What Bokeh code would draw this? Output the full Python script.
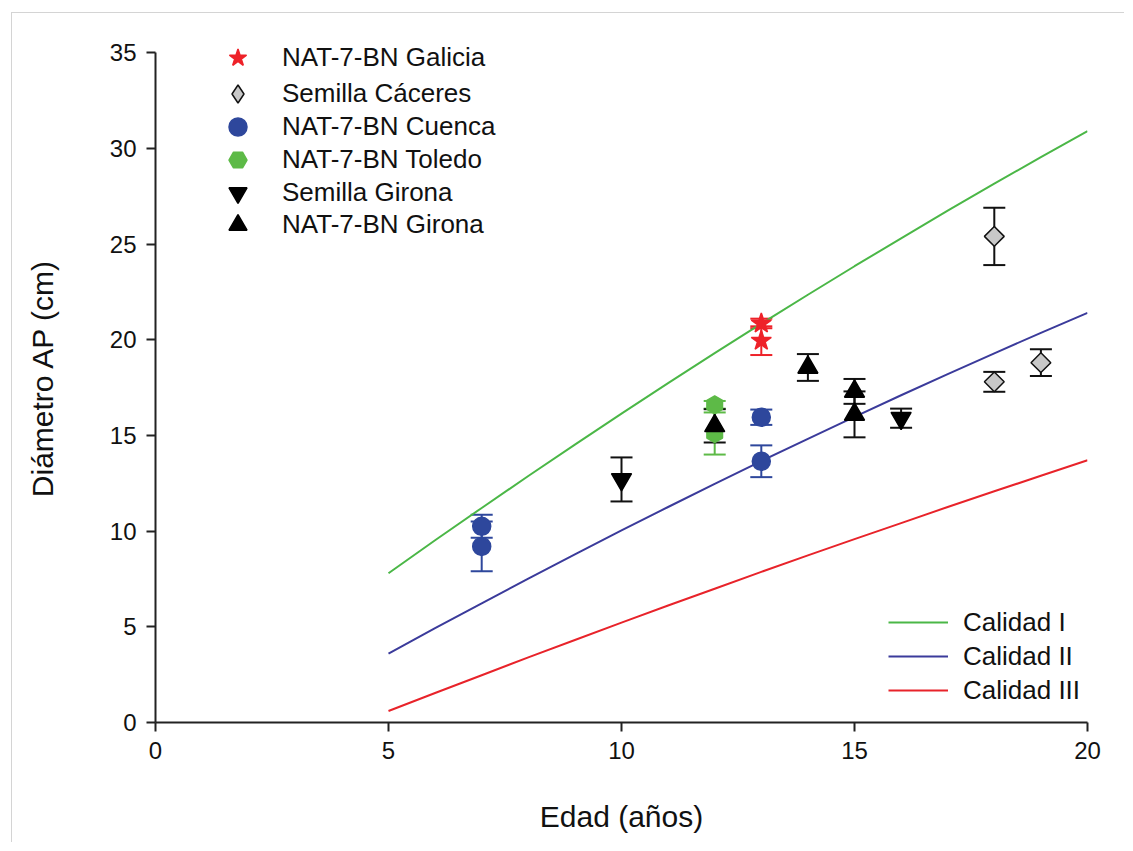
import math
from bokeh.plotting import figure
from bokeh.models import Range1d, Whisker, TeeHead, ColumnDataSource, Legend, LegendItem, FixedTicker
from bokeh.embed import file_html
from bokeh.resources import INLINE

# ---- data ----
gal_x = [13, 13]
gal_y = [20.85, 19.95]
gal_e = [0.25, 0.75]

cac_x = [18, 18, 19]
cac_y = [25.4, 17.8, 18.8]
cac_e = [1.5, 0.52, 0.7]

cue_x = [7, 7, 13, 13]
cue_y = [10.25, 9.2, 15.95, 13.65]
cue_e = [0.6, 1.3, 0.4, 0.83]

tol_x = [12, 12]
tol_y = [16.6, 15.1]
tol_e = [0.2, 1.1]

sgi_x = [10, 16]
sgi_y = [12.7, 15.9]
sgi_e = [1.15, 0.5]

ngi_x = [12, 14, 15, 15]
ngi_y = [15.5, 18.55, 17.3, 16.1]
ngi_e = [0.87, 0.7, 0.65, 1.2]

age = [5, 6, 7, 8, 9, 10, 11, 12, 13, 14, 15, 16, 17, 18, 19, 20]
cal1 = [7.8, 9.52, 11.21, 12.88, 14.52, 16.14, 17.73, 19.3, 20.84, 22.35, 23.84, 25.3, 26.74, 28.15, 29.54, 30.9]
cal2 = [3.6, 4.93, 6.23, 7.52, 8.79, 10.04, 11.26, 12.47, 13.66, 14.82, 15.97, 17.1, 18.2, 19.29, 20.36, 21.4]
cal3 = [0.6, 1.54, 2.47, 3.4, 4.31, 5.22, 6.11, 6.99, 7.87, 8.73, 9.58, 10.42, 11.26, 12.08, 12.89, 13.7]

series_labels = ["NAT-7-BN Galicia", "Semilla Cáceres", "NAT-7-BN Cuenca",
                 "NAT-7-BN Toledo", "Semilla Girona", "NAT-7-BN Girona"]
line_labels = ["Calidad I", "Calidad II", "Calidad III"]

FONT = "Liberation Sans"

p = figure(width=1113, height=830, output_backend="svg", toolbar_location=None,
           x_range=Range1d(0, 20), y_range=Range1d(0, 36),
           min_border_left=143, min_border_right=38, min_border_top=20, min_border_bottom=121)
p.styles = {"margin-left": "11px", "margin-top": "12px",
            "border-left": "1px solid #d4d4d4", "border-top": "1px solid #d4d4d4"}
p.outline_line_color = None
p.grid.visible = False
p.background_fill_color = "white"
p.border_fill_color = "white"

p.xaxis[0].ticker = FixedTicker(ticks=[0, 5, 10, 15, 20])
p.yaxis[0].ticker = FixedTicker(ticks=[0, 5, 10, 15, 20, 25, 30, 35])
p.yaxis[0].bounds = (0, 35)

for ax in (p.xaxis[0], p.yaxis[0]):
    ax.axis_line_width = 2
    ax.axis_line_color = "#222222"
    ax.major_tick_line_width = 2
    ax.major_tick_line_color = "#222222"
    ax.major_tick_in = 0
    ax.major_tick_out = 9
    ax.minor_tick_line_color = None
    ax.major_label_text_font = FONT
    ax.major_label_text_font_size = "24px"
    ax.major_label_text_color = "#111111"
    ax.axis_label_text_font = FONT
    ax.axis_label_text_font_size = "30px"
    ax.axis_label_text_font_style = "normal"
    ax.axis_label_text_color = "#111111"
    ax.major_label_standoff = 10

p.xaxis.axis_label = "Edad (años)"
p.yaxis.axis_label = "Diámetro AP (cm)"
p.xaxis.axis_label_standoff = 38
p.yaxis.axis_label_standoff = 48

# ---- quality lines ----
l1 = p.line(age, cal1, line_color="#4bb747", line_width=2)
l2 = p.line(age, cal2, line_color="#3b3b9b", line_width=2)
l3 = p.line(age, cal3, line_color="#e8232a", line_width=2)

# ---- series with error bars ----
def series(xs, ys, es, marker, size, fill, line, err_color, angle=0.0):
    lower = [y - e for y, e in zip(ys, es)]
    upper = [y + e for y, e in zip(ys, es)]
    src = ColumnDataSource(dict(x=xs, y=ys, lower=lower, upper=upper))
    w = Whisker(source=src, base="x", lower="lower", upper="upper", dimension="height",
                line_color=err_color, line_width=2,
                upper_head=TeeHead(size=22, line_color=err_color, line_width=2),
                lower_head=TeeHead(size=22, line_color=err_color, line_width=2))
    p.add_layout(w)
    r = p.scatter("x", "y", source=src, marker=marker, size=size, fill_color=fill,
                  line_color=line, line_width=1.5, angle=angle)
    return r, src

r_gal, _ = series(gal_x, gal_y, gal_e, "star", 21, "#ee2229", "#ee2229", "#ee2229")
r_cac, s_cac = series(cac_x, cac_y, cac_e, "square", 14, "#c8c8c8", "#111111", "#111111", angle=math.pi / 4)
r_cue, _ = series(cue_x, cue_y, cue_e, "circle", 18, "#2e479c", "#2e479c", "#2e479c")
r_tol, _ = series(tol_x, tol_y, tol_e, "hex", 18, "#5dba47", "#5dba47", "#5dba47", angle=math.pi / 6)
r_sgi, _ = series(sgi_x, sgi_y, sgi_e, "inverted_triangle", 20, "#000000", "#000000", "#111111")
r_ngi, _ = series(ngi_x, ngi_y, ngi_e, "triangle", 20, "#000000", "#000000", "#111111")

# legend-only glyph for the diamond (legend does not rotate markers)
r_cac_leg = p.scatter("x", "y", source=s_cac, marker="diamond", size=24, fill_color="#c8c8c8",
                      line_color="#111111", line_width=1.5, visible=False)

# one legend per row so that the legend markers can be larger than the row pitch allows
row_renderers = [r_gal, r_cac_leg, r_cue, r_tol, r_sgi, r_ngi]
row_y = [642, 606, 573, 540, 507, 475]
for lab, rr, ly in zip(series_labels, row_renderers, row_y):
    lg = Legend(items=[LegendItem(label=lab, renderers=[rr])], location=(60, ly),
                padding=0, margin=0, spacing=0, glyph_width=45, glyph_height=45,
                label_height=45, label_standoff=22, label_text_font=FONT,
                label_text_font_size="26px", label_text_color="#111111",
                border_line_color=None, background_fill_alpha=0)
    p.add_layout(lg, "center")

leg2 = Legend(items=[LegendItem(label=lab, renderers=[r]) for lab, r in zip(line_labels, [l1, l2, l3])],
              location=(733, 15), padding=0, margin=0, spacing=0, glyph_width=60, glyph_height=34,
              label_height=34, label_standoff=15, label_text_font=FONT, label_text_font_size="26px",
              label_text_color="#111111", border_line_color=None, background_fill_alpha=0)
p.add_layout(leg2, "center")

open("out.html", "w").write(file_html(p, INLINE))
